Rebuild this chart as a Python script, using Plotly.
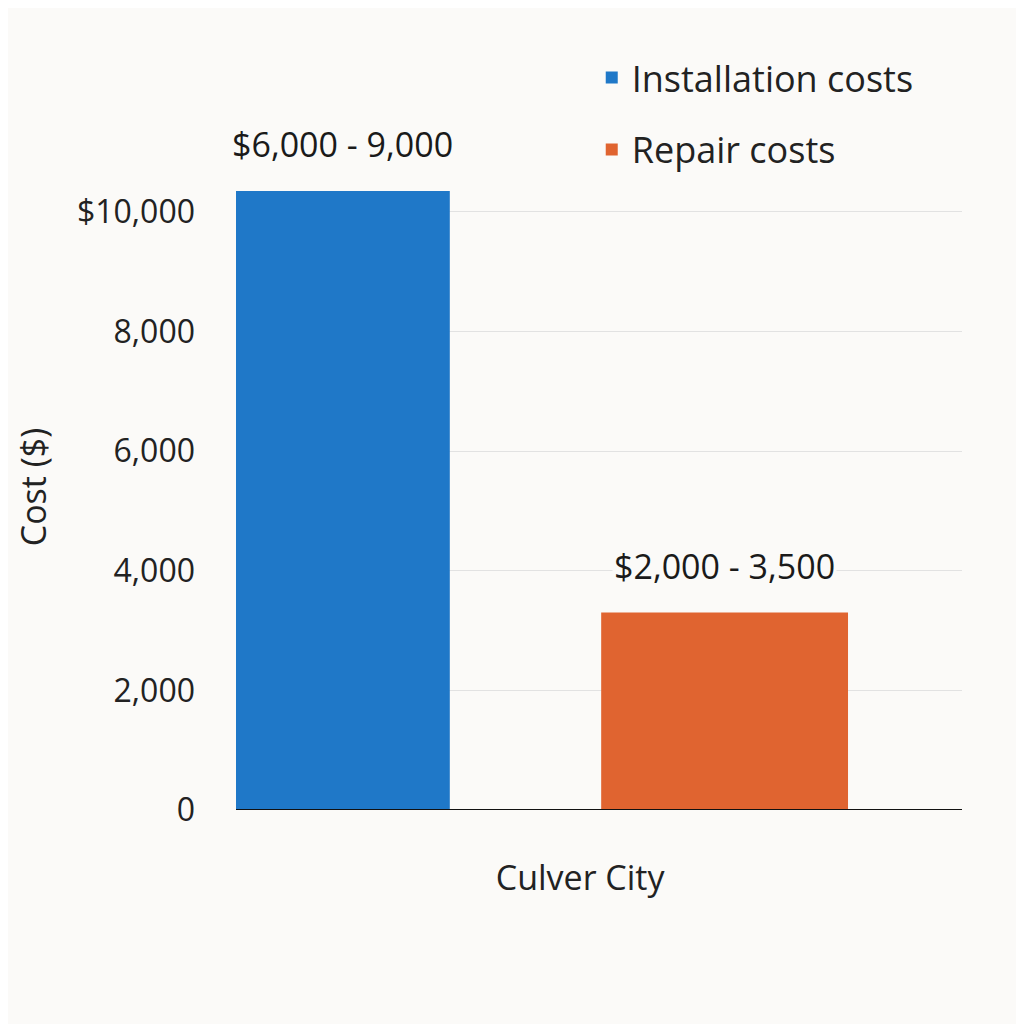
import plotly.graph_objects as go

series = ["Installation costs", "Repair costs"]
values = [10350, 3300]
labels = ["$6,000 - 9,000", "$2,000 - 3,500"]
colors = ["#1F78C8", "#E06430"]
tick_vals = [0, 2000, 4000, 6000, 8000, 10000]
tick_text = ["0", "2,000", "4,000", "6,000", "8,000", "$10,000"]
category = "Culver City"

# bar placement on a numeric x axis (0..1 spans the plot area)
pos = [0.147, 0.673]
widths = [0.295, 0.34]

fig = go.Figure()
for name, v, c, x, w in zip(series, values, colors, pos, widths):
    fig.add_trace(go.Bar(x=[x], y=[v], width=[w], name=name, legendgroup=name,
                         marker=dict(color=c, line=dict(width=0))))

for v, t, x in zip(values, labels, pos):
    fig.add_annotation(x=x, y=v, text=t, showarrow=False, yanchor="bottom", yshift=22,
                       font=dict(size=34, color="#1a1a1a"), bgcolor="#FBFAF8")

fig.update_layout(
    width=1024, height=1024,
    paper_bgcolor="#FBFAF8", plot_bgcolor="#FBFAF8",
    margin=dict(l=228, r=70, t=156, b=222),
    font=dict(family="Open Sans", size=32, color="#222"),
    showlegend=True,
    legend=dict(x=0.49, y=1.18, xanchor="left", yanchor="top",
                font=dict(size=36), itemsizing="constant", tracegroupgap=22,
                traceorder="grouped", bgcolor="rgba(0,0,0,0)"),
    xaxis=dict(range=[0, 1], tickvals=[0.474], ticktext=[category], showgrid=False,
               zeroline=False, ticks="", tickfont=dict(size=34)),
    yaxis=dict(range=[0, 10800], tickvals=tick_vals, ticktext=tick_text,
               gridcolor="#E2E2E2", zeroline=False, showline=False,
               ticks="", ticklabelstandoff=40,
               title=dict(text="Cost ($)", font=dict(size=34), standoff=20)),
)
fig.add_shape(type="line", xref="paper", yref="y", x0=0, x1=1, y0=0, y1=0,
              line=dict(color="#111", width=2))
fig.update_xaxes(ticklabelstandoff=45)

fig.write_html("out.html")
